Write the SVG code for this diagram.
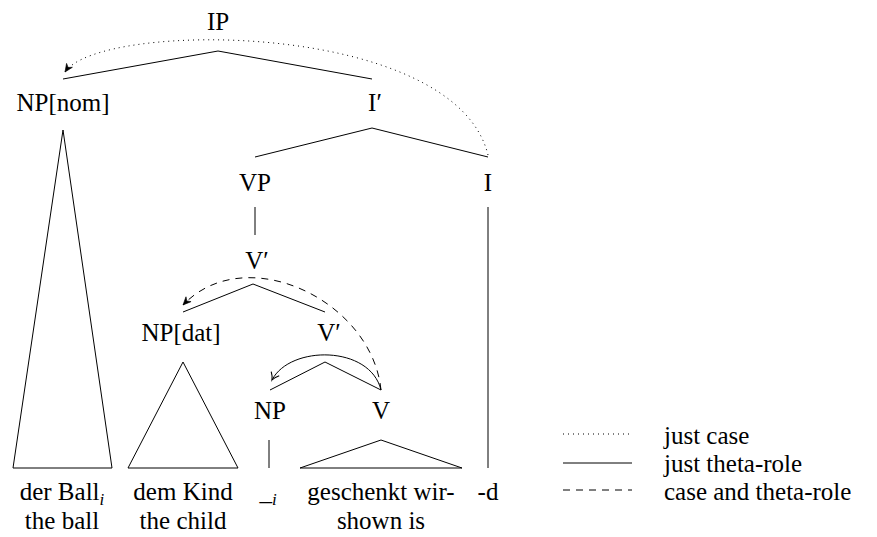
<svg xmlns="http://www.w3.org/2000/svg" width="877" height="537" viewBox="0 0 877 537">
<defs>
<marker id="stealth" viewBox="-10 -5 12 10" refX="0" refY="0" markerWidth="12" markerHeight="10" markerUnits="userSpaceOnUse" orient="auto">
<path d="M0,0 L-8,-3.5 L-5.5,0 L-8,3.5 Z" fill="#000" stroke="#000" stroke-width="0.6"/>
</marker>
<marker id="to" viewBox="-10 -6 12 12" refX="0" refY="0" markerWidth="12" markerHeight="12" markerUnits="userSpaceOnUse" orient="auto">
<path d="M-7,-4.5 Q-3,-0.8 0,0 Q-3,0.8 -7,4.5" fill="none" stroke="#000" stroke-width="1.1"/>
</marker>
</defs>

<g id="connectors" stroke="#000" stroke-width="1" fill="none">
<polyline points="63,79 218,51 372,79"/>
<polyline points="255,157 372,128 488,157"/>
<line x1="255" y1="207" x2="255" y2="235"/>
<polyline points="183,312 253,284 325,312"/>
<polyline points="270,390 325,362 381,390"/>
<polygon points="63,130 13,468 112,468"/>
<polygon points="183,362 128,468 238,468"/>
<line x1="269" y1="440" x2="269" y2="468"/>
<polygon points="381,440 300,468 462,468"/>
<line x1="488" y1="207" x2="488" y2="468"/>
<path stroke-dasharray="1 4" d="M488,155 C455,20 100,20 65,72" marker-end="url(#stealth)"/>
<path stroke-dasharray="7 6" d="M381,390 C372,300 245,240 183,305" marker-end="url(#stealth)"/>
<path d="M381,390 C370,345 290,345 272,380" marker-end="url(#to)"/>
</g>

<g id="n-IP"><text font-family="Liberation Serif" font-size="25" text-anchor="middle" x="218" y="30">IP</text></g>
<g id="n-NPnom"><text font-family="Liberation Serif" font-size="25" text-anchor="middle" x="63" y="111">NP[nom]</text></g>
<g id="n-Ibar"><text font-family="Liberation Serif" font-size="25" text-anchor="middle" x="375" y="111">I′</text></g>
<g id="n-VP"><text font-family="Liberation Serif" font-size="25" text-anchor="middle" x="255" y="191">VP</text></g>
<g id="n-I"><text font-family="Liberation Serif" font-size="25" text-anchor="middle" x="488" y="191">I</text></g>
<g id="n-Vbar1"><text font-family="Liberation Serif" font-size="25" text-anchor="middle" x="257" y="269">V′</text></g>
<g id="n-NPdat"><text font-family="Liberation Serif" font-size="25" text-anchor="middle" x="181" y="341">NP[dat]</text></g>
<g id="n-Vbar2"><text font-family="Liberation Serif" font-size="25" text-anchor="middle" x="329" y="341">V′</text></g>
<g id="n-NP"><text font-family="Liberation Serif" font-size="25" text-anchor="middle" x="270" y="419">NP</text></g>
<g id="n-V"><text font-family="Liberation Serif" font-size="25" text-anchor="middle" x="381" y="419">V</text></g>

<g id="leaf-derBall"><text font-family="Liberation Serif" font-size="25" text-anchor="middle" x="62" y="500">der Ball<tspan font-style="italic" font-size="17" dy="5">i</tspan></text><text font-family="Liberation Serif" font-size="25" text-anchor="middle" x="62" y="529">the ball</text></g>
<g id="leaf-demKind"><text font-family="Liberation Serif" font-size="25" text-anchor="middle" x="183" y="500">dem Kind</text><text font-family="Liberation Serif" font-size="25" text-anchor="middle" x="183" y="529">the child</text></g>
<g id="leaf-trace"><text font-family="Liberation Serif" font-size="25" text-anchor="middle" x="268" y="500">_<tspan font-style="italic" font-size="17" dy="5">i</tspan></text></g>
<g id="leaf-geschenkt"><text font-family="Liberation Serif" font-size="25" text-anchor="middle" x="381" y="500">geschenkt wir-</text><text font-family="Liberation Serif" font-size="25" text-anchor="middle" x="381" y="529">shown is</text></g>
<g id="leaf-d"><text font-family="Liberation Serif" font-size="25" text-anchor="middle" x="488" y="500">-d</text></g>

<g id="legend">
<g stroke="#000" stroke-width="1">
<line stroke-dasharray="1 4" x1="563" y1="434" x2="632" y2="434"/>
<line x1="563" y1="463" x2="632" y2="463"/>
<line stroke-dasharray="7 6" x1="563" y1="490" x2="632" y2="490"/>
</g>
<text font-family="Liberation Serif" font-size="25" x="664" y="444">just case</text>
<text font-family="Liberation Serif" font-size="25" x="664" y="472">just theta-role</text>
<text font-family="Liberation Serif" font-size="25" x="664" y="500">case and theta-role</text>
</g>
</svg>
